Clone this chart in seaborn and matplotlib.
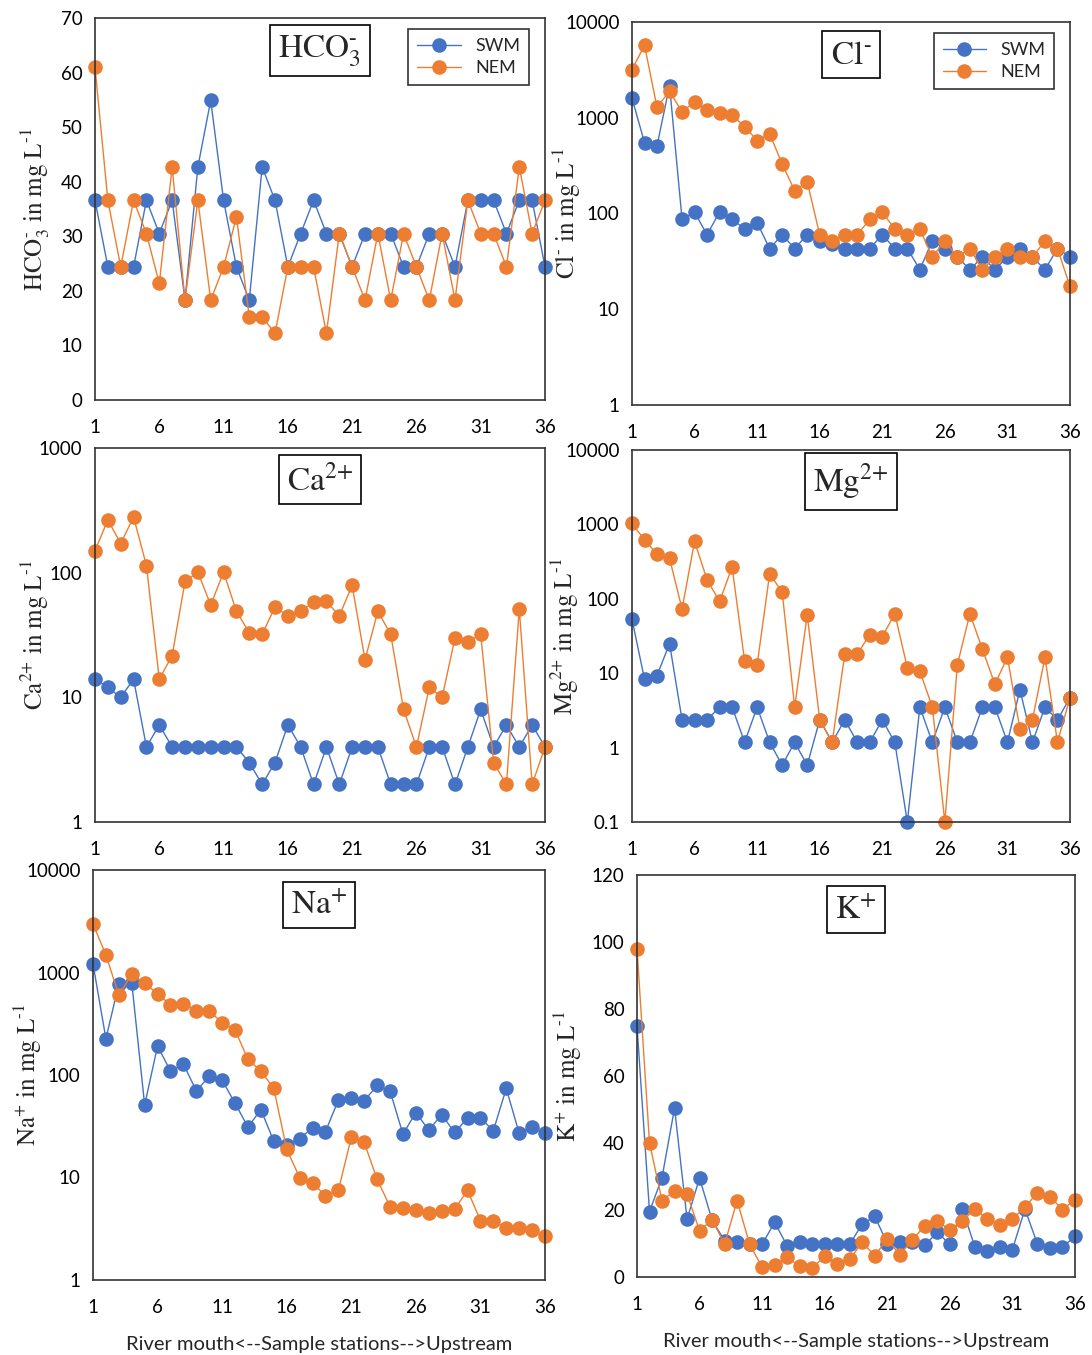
import numpy as np
import pandas as pd
import matplotlib
matplotlib.use('Agg')
import matplotlib.pyplot as plt
import seaborn as sns
from matplotlib.ticker import FuncFormatter, NullLocator, FixedLocator

# estações de amostragem
stations = list(range(1, 37))
xticks = [1, 6, 11, 16, 21, 26, 31, 36]

# HCO3-
hco3_swm = [36.6, 24.4, 24.4, 24.4, 36.6, 30.5, 36.6, 18.3, 42.7, 54.9, 36.6, 24.4,
            18.3, 42.7, 36.6, 24.4, 30.5, 36.6, 30.5, 30.5, 24.4, 30.5, 30.5, 30.5,
            24.4, 24.4, 30.5, 30.5, 24.4, 36.6, 36.6, 36.6, 30.5, 36.6, 36.6, 24.4]
hco3_nem = [61.0, 36.6, 24.4, 36.6, 30.5, 21.35, 42.7, 18.3, 36.6, 18.3, 24.4, 33.55,
            15.25, 15.25, 12.2, 24.4, 24.4, 24.4, 12.2, 30.5, 24.4, 18.3, 30.5, 18.3,
            30.5, 24.4, 18.3, 30.5, 18.3, 36.6, 30.5, 30.5, 24.4, 42.7, 30.5, 36.6]

# Cl-
cl_swm = [1600, 550, 510, 2170, 87, 103, 60, 104, 87, 69, 80, 43,
          60, 43, 60, 52, 48, 43, 43, 43, 60, 43, 43, 26,
          52, 43, 35, 26, 35, 26, 35, 43, 35, 26, 43, 35]
cl_nem = [3190, 5690, 1290, 1890, 1150, 1470, 1210, 1120, 1060, 810, 578, 680,
          329, 173, 215, 60, 52, 60, 60, 87, 103, 69, 60, 69,
          35, 52, 35, 43, 26, 35, 43, 35, 35, 52, 43, 17.3]

# Ca2+
ca_swm = [14, 12, 10, 14, 4, 6, 4, 4, 4, 4, 4, 4,
          3, 2, 3, 6, 4, 2, 4, 2, 4, 4, 4, 2,
          2, 2, 4, 4, 2, 4, 8, 4, 6, 4, 6, 4]
ca_nem = [150, 265, 171, 280, 114, 14, 21.6, 85, 101, 55, 101, 49,
          33, 32, 53, 45, 49, 58, 59, 45, 79, 20, 49, 32,
          8, 4, 12, 10, 30, 28, 32, 3, 2, 51, 2, 4]

# Mg2+
mg_swm = [53, 8.3, 9.3, 25, 2.36, 2.36, 2.36, 3.5, 3.5, 1.18, 3.5, 1.18,
          0.58, 1.18, 0.58, 2.36, 1.18, 2.36, 1.18, 1.18, 2.36, 1.18, 0.1, 3.5,
          1.18, 3.5, 1.18, 1.18, 3.5, 3.5, 1.18, 6.0, 1.18, 3.5, 2.36, 4.7]
mg_nem = [1030, 620, 400, 350, 73, 590, 180, 92, 267, 14.5, 13, 217,
          123, 3.5, 61, 2.36, 1.18, 18, 18, 33, 31, 63, 11.9, 10.7,
          3.5, 0.1, 13, 63, 21, 7.1, 16.4, 1.78, 2.36, 16.4, 1.18, 4.7]

# Na+
na_swm = [1215, 226, 774, 798, 51, 192, 109, 128, 70, 97, 89, 53,
          31, 46, 22.6, 20.7, 24, 30.5, 28, 57, 59, 56, 79, 70,
          26.5, 43, 29, 41, 27.5, 38, 38, 28.6, 74, 27, 31, 27]
na_nem = [2970, 1490, 600, 963, 787, 619, 483, 494, 425, 422, 324, 275,
          142, 109, 74, 18.8, 10, 8.9, 6.6, 7.5, 24.6, 22, 9.6, 5.2,
          5.0, 4.8, 4.5, 4.7, 4.9, 7.5, 3.8, 3.8, 3.2, 3.2, 3.05, 2.7]

# K+
k_swm = [75, 19.5, 29.7, 50.4, 17.3, 29.5, 17, 10.8, 10.5, 10, 9.8, 16.3,
         9.3, 10.5, 9.8, 9.8, 9.8, 9.8, 15.8, 18.1, 10, 10.3, 10.5, 9.5,
         13.3, 9.8, 20.3, 9.0, 7.9, 9.0, 8.2, 20.3, 9.8, 8.8, 9.0, 12.1]
k_nem = [98, 40, 22.8, 25.7, 24.8, 13.8, 17.1, 9.8, 22.8, 9.8, 2.9, 3.6,
         5.9, 3.2, 2.7, 6.2, 3.9, 5.4, 10.3, 6.4, 11.3, 6.6, 11.1, 15.3,
         16.6, 14.1, 16.8, 20.3, 17.3, 15.5, 17.3, 20.8, 25.2, 24.0, 20.1, 23.1]

sns.set_style('white')
plt.rcParams['font.family'] = ['Lato', 'DejaVu Sans']
plt.rcParams['mathtext.fontset'] = 'stix'

W, H = 1092, 1355
fig = plt.figure(figsize=(W / 100, H / 100), dpi=100)

def rect(left, top, right, bottom):
    return [left / W, 1 - bottom / H, (right - left) / W, (bottom - top) / H]

unit = r'\ in\ mg\ L^{\text{-1}}'
panels = [
    # (rect, swm, nem, title, ylabel, log, ylim, legend, xlabel, label x)
    (rect(95, 18, 545, 400), hco3_swm, hco3_nem, r'$\mathrm{HCO_3^{\text{-}}}$',
     r'$\mathrm{HCO_3^{\text{-}}' + unit + '}$', False, (0, 70), True, False, -0.133),
    (rect(632, 22, 1070, 405), cl_swm, cl_nem, r'$\mathrm{Cl^{\text{-}}}$',
     r'$\mathrm{Cl^{\text{-}}' + unit + '}$', True, (1, 10000), True, False, -0.148),
    (rect(95, 448, 545, 822), ca_swm, ca_nem, r'$\mathrm{Ca^{\text{2+}}}$',
     r'$\mathrm{Ca^{\text{2+}}' + unit + '}$', True, (1, 1000), False, False, -0.133),
    (rect(632, 450, 1070, 822), mg_swm, mg_nem, r'$\mathrm{Mg^{\text{2+}}}$',
     r'$\mathrm{Mg^{\text{2+}}' + unit + '}$', True, (0.1, 10000), False, False, -0.153),
    (rect(93, 870, 545, 1280), na_swm, na_nem, r'$\mathrm{Na^{\text{+}}}$',
     r'$\mathrm{Na^{\text{+}}' + unit + '}$', True, (1, 10000), False, True, -0.144),
    (rect(637, 875, 1075, 1277), k_swm, k_nem, r'$\mathrm{K^{\text{+}}}$',
     r'$\mathrm{K^{\text{+}}' + unit + '}$', False, (0, 120), False, True, -0.158),
]

blue = '#4472C4'
orange = '#ED7D31'

def fmt(v, pos):
    if v >= 1:
        return f'{int(round(v))}'
    return f'{v:g}'

for r, swm, nem, title, ylabel, logy, ylim, show_leg, show_xl, lx in panels:
    ax = fig.add_axes(r)
    df = pd.DataFrame({'station': stations * 2,
                       'value': swm + nem,
                       'season': ['SWM'] * 36 + ['NEM'] * 36})
    sns.lineplot(data=df, x='station', y='value', hue='season',
                 palette={'SWM': blue, 'NEM': orange}, marker='o',
                 markersize=10.5, markeredgewidth=0, linewidth=1.0,
                 ax=ax, legend=show_leg, clip_on=False)
    if logy:
        ax.set_yscale('log')
        ax.yaxis.set_major_formatter(FuncFormatter(fmt))
        ax.yaxis.set_minor_locator(NullLocator())
    else:
        step = 10 if ylim[1] == 70 else 20
        ax.yaxis.set_major_locator(FixedLocator(np.arange(ylim[0], ylim[1] + 1, step)))
    ax.set_ylim(*ylim)
    ax.set_xlim(1, 36)
    ax.set_xticks(xticks)
    ax.tick_params(axis='both', direction='out', length=5, width=1,
                   labelsize=13.5, colors='black', pad=4)
    ax.tick_params(axis='x', pad=9)
    for s in ax.spines.values():
        s.set_color('#333333')
        s.set_linewidth(1.2)
    ax.set_ylabel(ylabel, fontsize=18, va='center')
    ax.yaxis.set_label_coords(lx, 0.5)
    if show_xl:
        ax.set_xlabel('River mouth<--Sample stations-->Upstream', fontsize=14.5, labelpad=14)
    else:
        ax.set_xlabel('')
    ax.text(0.5, 0.915, title, transform=ax.transAxes, ha='center', va='center',
            fontsize=24, zorder=5,
            bbox=dict(boxstyle='square,pad=0.25', facecolor='white',
                      edgecolor='black', linewidth=1.2))
    if show_leg:
        leg = ax.legend(loc='upper right', bbox_to_anchor=(0.985, 0.995), fontsize=13,
                        frameon=True, fancybox=False, edgecolor='black',
                        handlelength=2.4, borderpad=0.5, labelspacing=0.35)
        leg.get_frame().set_linewidth(1.2)
        leg.set_title(None)

fig.savefig('out.png', dpi=100)
